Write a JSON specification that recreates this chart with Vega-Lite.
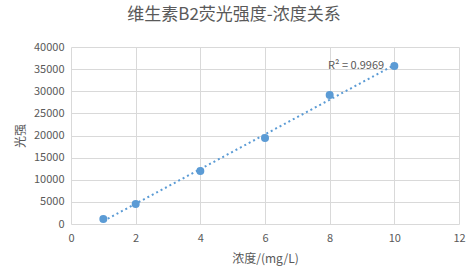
{
  "$schema": "https://vega.github.io/schema/vega-lite/v6.json",
  "width": 388,
  "height": 177,
  "autosize": {"type": "none"},
  "padding": {"left": 71, "top": 47, "right": 12, "bottom": 54},
  "background": "white",
  "title": {
    "text": "维生素B2荧光强度-浓度关系",
    "font": "Noto Sans CJK SC",
    "fontSize": 17,
    "fontWeight": "normal",
    "color": "#595959",
    "anchor": "middle",
    "dx": -31,
    "offset": 17
  },
  "config": {
    "view": {"stroke": null},
    "axis": {
      "labelFont": "Noto Sans CJK SC",
      "labelFontSize": 11,
      "labelColor": "#595959",
      "titleFont": "Noto Sans CJK SC",
      "titleFontSize": 12,
      "titleFontWeight": "normal",
      "titleColor": "#595959",
      "gridColor": "#d9d9d9",
      "gridWidth": 1,
      "domain": false,
      "ticks": false,
      "labelOverlap": false,
      "labelFlush": false
    }
  },
  "data": {
    "values": [
      {"c": 1, "f": 1130},
      {"c": 2, "f": 4520},
      {"c": 4, "f": 11980},
      {"c": 6, "f": 19430},
      {"c": 8, "f": 29150},
      {"c": 10, "f": 35700}
    ]
  },
  "encoding": {
    "x": {
      "field": "c", "type": "quantitative",
      "scale": {"domain": [0, 12]},
      "axis": {"values": [0, 2, 4, 6, 8, 10, 12], "title": "浓度/(mg/L)", "labelPadding": 8, "titlePadding": 10}
    },
    "y": {
      "field": "f", "type": "quantitative",
      "scale": {"domain": [0, 40000]},
      "axis": {"values": [0, 5000, 10000, 15000, 20000, 25000, 30000, 35000, 40000], "format": "d", "title": "光强", "labelPadding": 7, "titlePadding": 6}
    }
  },
  "layer": [
    {
      "transform": [{"regression": "f", "on": "c"}],
      "mark": {"type": "line", "color": "#5B9BD5", "strokeWidth": 2, "strokeDash": [2, 3]}
    },
    {
      "mark": {"type": "point", "filled": true, "size": 64, "color": "#5B9BD5", "opacity": 1}
    },
    {
      "data": {"values": [{"c": 7.95, "f": 35700, "label": "R² = 0.9969"}]},
      "mark": {"type": "text", "align": "left", "baseline": "middle", "font": "Noto Sans CJK SC", "fontSize": 11, "color": "#595959"},
      "encoding": {
        "text": {"field": "label"}
      }
    }
  ]
}
